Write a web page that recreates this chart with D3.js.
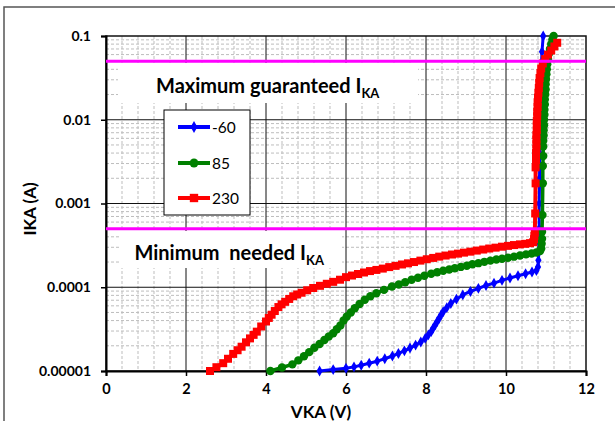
<!DOCTYPE html>
<html><head><meta charset="utf-8">
<script src="https://cdn.jsdelivr.net/npm/d3@7"></script>
<style>body{margin:0;background:#fff}svg{display:block}text{font-family:Lato,"Open Sans",sans-serif}</style>
</head><body><svg id="c" width="615" height="421"></svg>
<script>
const seriesNames = ["-60", "85", "230"];
const seriesColors = ["#0000ff", "#008000", "#ff0000"];

// -60 series (blue, diamonds)
const blueV = [5.34,5.68,6.00,6.20,6.38,6.58,6.78,6.97,7.16,7.31,7.46,7.60,7.74,7.87,7.98,8.06,8.13,8.18,8.23,8.28,8.33,8.38,8.43,8.52,8.62,8.76,8.92,9.11,9.31,9.50,9.70,9.90,10.10,10.30,10.49,10.65,10.76,10.80,10.81,10.82,10.82,10.83,10.83,10.84,10.84,10.85,10.86,10.88,10.90,10.93];
const blueI = [1.00e-5,1.04e-5,1.08e-5,1.12e-5,1.17e-5,1.24e-5,1.31e-5,1.40e-5,1.51e-5,1.62e-5,1.74e-5,1.88e-5,2.04e-5,2.22e-5,2.45e-5,2.70e-5,2.95e-5,3.25e-5,3.55e-5,3.90e-5,4.27e-5,4.70e-5,5.10e-5,5.70e-5,6.40e-5,7.20e-5,8.10e-5,8.90e-5,9.70e-5,1.05e-4,1.12e-4,1.21e-4,1.29e-4,1.37e-4,1.45e-4,1.52e-4,1.58e-4,1.75e-4,2.10e-4,2.60e-4,3.50e-4,5.0e-4,1.0e-3,2.0e-3,4.0e-3,1.0e-2,2.0e-2,4.0e-2,6.5e-2,1.0e-1];

// 85 series (green, circles)
const greenV = [4.11,4.40,4.66,4.81,4.95,5.08,5.21,5.34,5.46,5.57,5.68,5.77,5.86,5.94,6.02,6.12,6.22,6.34,6.47,6.61,6.76,6.95,7.15,7.32,7.48,7.64,7.80,7.96,8.13,8.28,8.43,8.58,8.72,8.87,9.02,9.16,9.31,9.46,9.61,9.76,9.90,10.05,10.20,10.35,10.50,10.64,10.76,10.85,10.88,10.89,10.90,10.90,10.91,10.92,10.92,10.93,10.93,10.93,10.94,10.94,10.95,10.95,10.96,10.96,10.97,10.97,10.98,10.99,10.99,11.00,11.01,11.02,11.03,11.05,11.07,11.10,11.13,11.16,11.19];
const greenI = [1.00e-5,1.10e-5,1.20e-5,1.34e-5,1.50e-5,1.68e-5,1.90e-5,2.10e-5,2.34e-5,2.58e-5,2.82e-5,3.15e-5,3.50e-5,4.00e-5,4.47e-5,5.00e-5,5.60e-5,6.30e-5,7.10e-5,7.80e-5,8.50e-5,9.30e-5,1.02e-4,1.08e-4,1.15e-4,1.23e-4,1.30e-4,1.37e-4,1.45e-4,1.51e-4,1.57e-4,1.63e-4,1.69e-4,1.75e-4,1.81e-4,1.88e-4,1.94e-4,2.01e-4,2.08e-4,2.14e-4,2.19e-4,2.25e-4,2.32e-4,2.40e-4,2.47e-4,2.53e-4,2.60e-4,2.70e-4,2.90e-4,3.30e-4,3.80e-4,4.60e-4,7.30e-4,1.74e-3,2.80e-3,3.70e-3,4.80e-3,5.60e-3,6.5e-3,7.5e-3,8.6e-3,1.0e-2,1.15e-2,1.32e-2,1.52e-2,1.75e-2,2.0e-2,2.3e-2,2.65e-2,3.05e-2,3.5e-2,4.0e-2,4.6e-2,5.3e-2,6.1e-2,7.0e-2,8.0e-2,9.0e-2,1.0e-1];

// 230 series (red, squares)
const redV = [2.60,2.76,2.93,3.05,3.18,3.29,3.39,3.50,3.60,3.69,3.77,3.88,4.00,4.07,4.14,4.22,4.31,4.39,4.48,4.58,4.68,4.78,4.89,5.03,5.18,5.35,5.52,5.68,5.85,6.00,6.15,6.30,6.45,6.60,6.76,6.92,7.08,7.24,7.40,7.55,7.70,7.86,8.02,8.18,8.33,8.49,8.65,8.80,8.95,9.11,9.27,9.43,9.58,9.74,9.90,10.05,10.20,10.35,10.48,10.60,10.68,10.70,10.71,10.72,10.73,10.74,10.74,10.75,10.75,10.75,10.76,10.76,10.76,10.76,10.77,10.77,10.77,10.78,10.78,10.79,10.79,10.80,10.81,10.82,10.83,10.84,10.86,10.88,10.92,10.98,11.05,11.13,11.21,11.28];
const redI = [1.00e-5,1.11e-5,1.24e-5,1.40e-5,1.60e-5,1.77e-5,1.95e-5,2.20e-5,2.45e-5,2.70e-5,2.95e-5,3.40e-5,3.90e-5,4.30e-5,4.70e-5,5.20e-5,5.80e-5,6.25e-5,6.70e-5,7.25e-5,7.80e-5,8.20e-5,8.60e-5,9.20e-5,9.80e-5,1.04e-4,1.10e-4,1.16e-4,1.23e-4,1.32e-4,1.38e-4,1.44e-4,1.50e-4,1.56e-4,1.61e-4,1.67e-4,1.74e-4,1.80e-4,1.87e-4,1.93e-4,2.00e-4,2.08e-4,2.16e-4,2.24e-4,2.32e-4,2.39e-4,2.46e-4,2.52e-4,2.59e-4,2.66e-4,2.74e-4,2.82e-4,2.90e-4,2.97e-4,3.05e-4,3.12e-4,3.19e-4,3.25e-4,3.30e-4,3.36e-4,3.45e-4,3.75e-4,4.10e-4,4.50e-4,7.60e-4,1.74e-3,2.70e-3,3.30e-3,3.60e-3,4.0e-3,4.5e-3,5.1e-3,5.8e-3,6.6e-3,7.5e-3,8.5e-3,9.7e-3,1.10e-2,1.25e-2,1.42e-2,1.62e-2,1.84e-2,2.10e-2,2.40e-2,2.75e-2,3.15e-2,3.60e-2,4.10e-2,4.70e-2,5.30e-2,6.00e-2,6.70e-2,7.50e-2,8.30e-2,9.20e-2,1.00e-1];

const xTicks = [0, 2, 4, 6, 8, 10, 12];
const yTicks = [0.00001, 0.0001, 0.001, 0.01, 0.1];
const yTickLabels = ["0.00001", "0.0001", "0.001", "0.01", "0.1"];
const limitLevels = [0.05, 0.0005];
const xTitle = "VKA (V)";
const yTitle = "IKA (A)";

const svg = d3.select("#c");
const L = 106, R = 586, T = 36, B = 371;
const x = d3.scaleLinear().domain([0, 12]).range([L, R]);
const y = d3.scaleLog().domain([1e-5, 0.1]).range([B, T]);

// outer chart frame
svg.append("rect").attr("x", 4).attr("y", 7).attr("width", 700).attr("height", 500)
  .attr("fill", "none").attr("stroke", "#555").attr("stroke-width", 1.5);

// minor grid
const minorX = d3.range(0, 12.001, 0.4).filter(v => Math.abs(v / 2 - Math.round(v / 2)) > 1e-6);
const minorY = [];
[-5, -4, -3, -2].forEach(d => { for (let k = 2; k <= 9; k++) minorY.push(k * Math.pow(10, d)); });
const g = svg.append("g");
g.selectAll(".mx").data(minorX).join("line")
  .attr("x1", d => x(d)).attr("x2", d => x(d)).attr("y1", T).attr("y2", B)
  .attr("stroke", "#bdbdbd").attr("stroke-dasharray", "3,2");
g.selectAll(".my").data(minorY).join("line")
  .attr("x1", L).attr("x2", R).attr("y1", d => y(d)).attr("y2", d => y(d))
  .attr("stroke", "#bdbdbd").attr("stroke-dasharray", "3,2");
// major grid
g.selectAll(".Mx").data(xTicks.slice(1, -1)).join("line")
  .attr("x1", d => x(d)).attr("x2", d => x(d)).attr("y1", T).attr("y2", B)
  .attr("stroke", "#111").attr("stroke-width", 1);
g.selectAll(".My").data(yTicks.slice(1, -1)).join("line")
  .attr("x1", L).attr("x2", R).attr("y1", d => y(d)).attr("y2", d => y(d))
  .attr("stroke", "#111").attr("stroke-width", 1);

// plot border
svg.append("rect").attr("x", L).attr("y", T).attr("width", R - L).attr("height", B - T)
  .attr("fill", "none").attr("stroke", "#111").attr("stroke-width", 1.5);

// annotation boxes
svg.append("rect").attr("x", 118).attr("y", 63).attr("width", 300).attr("height", 40).attr("fill", "#fff");
svg.append("rect").attr("x", 121).attr("y", 231).attr("width", 221).attr("height", 37).attr("fill", "#fff");

const t1 = svg.append("text").attr("x", 156).attr("y", 93).attr("font-size", 20).attr("font-weight", "bold").attr("fill", "#000");
t1.append("tspan").text("Maximum guaranteed I");
t1.append("tspan").attr("font-size", 13).attr("dy", 5).text("KA");
const t2 = svg.append("text").attr("x", 134.5).attr("y", 259.5).attr("font-size", 20).attr("font-weight", "bold").attr("fill", "#000").attr("xml:space", "preserve");
t2.append("tspan").text("Minimum  needed I");
t2.append("tspan").attr("font-size", 13).attr("dy", 5).text("KA");

// axes
const xAxis = d3.axisBottom(x).tickValues(xTicks).tickSize(5).tickFormat(d3.format("d"));
const gx = svg.append("g").attr("transform", `translate(0,${B})`).call(xAxis);
gx.select(".domain").attr("stroke", "#000").attr("stroke-width", 2);
gx.selectAll(".tick line").attr("stroke", "#000").attr("stroke-width", 1.5);
gx.selectAll(".tick text").attr("font-family", "Lato").attr("font-weight", "bold").attr("font-size", 14.5).attr("fill", "#000").attr("y", 13);

const yAxis = d3.axisLeft(y).tickValues(yTicks).tickSize(5).tickFormat((d, i) => yTickLabels[i]);
const gy = svg.append("g").attr("transform", `translate(${L},0)`).call(yAxis);
gy.select(".domain").attr("stroke", "#000").attr("stroke-width", 2);
gy.selectAll(".tick line").attr("stroke", "#000").attr("stroke-width", 1.5);
gy.selectAll(".tick text").attr("font-family", "Lato").attr("font-weight", "bold").attr("font-size", 14).attr("fill", "#000").attr("x", -15);

svg.append("text").attr("x", 321).attr("y", 418).attr("text-anchor", "middle").attr("font-size", 17).attr("font-weight", "bold").text(xTitle);
svg.append("text").attr("transform", "translate(36,209) rotate(-90)").attr("text-anchor", "middle").attr("font-size", 17).attr("font-weight", "bold").text(yTitle);

// series
const series = [
  { v: blueV, i: blueI, sym: d3.symbolDiamond, size: 34, w: 3 },
  { v: greenV, i: greenI, sym: d3.symbolCircle, size: 56, w: 3.5 },
  { v: redV, i: redI, sym: d3.symbolSquare, size: 64, w: 4 }
];
const line = d3.line().x(d => x(d[0])).y(d => y(d[1]));
series.forEach((s, k) => {
  const pts = s.v.map((v, j) => [v, s.i[j]]);
  svg.append("path").attr("d", line(pts)).attr("fill", "none").attr("stroke", seriesColors[k]).attr("stroke-width", s.w).attr("stroke-linejoin", "round");
  svg.append("g").selectAll("path").data(pts).join("path")
    .attr("transform", d => `translate(${x(d[0])},${y(d[1])})`)
    .attr("d", d3.symbol().type(s.sym).size(s.size)).attr("fill", seriesColors[k]);
});

// limit lines
svg.selectAll(".lim").data(limitLevels).join("line")
  .attr("x1", L).attr("x2", R).attr("y1", d => y(d)).attr("y2", d => y(d))
  .attr("stroke", "#ff00ff").attr("stroke-width", 3);

// legend
const lg = svg.append("g");
lg.append("rect").attr("x", 164).attr("y", 110).attr("width", 86).attr("height", 105)
  .attr("fill", "#fff").attr("stroke", "#000").attr("stroke-width", 1);
const legY = [127, 163, 198];
series.forEach((s, k) => {
  lg.append("line").attr("x1", 178).attr("x2", 210).attr("y1", legY[k]).attr("y2", legY[k])
    .attr("stroke", seriesColors[k]).attr("stroke-width", 4);
  lg.append("path").attr("transform", `translate(194,${legY[k]})`)
    .attr("d", d3.symbol().type(s.sym).size(s.size + 6)).attr("fill", seriesColors[k]);
  lg.append("text").attr("x", 212).attr("y", legY[k] + 5.5).attr("font-size", 15.5).attr("fill", "#000").text(seriesNames[k]);
});
</script></body></html>
